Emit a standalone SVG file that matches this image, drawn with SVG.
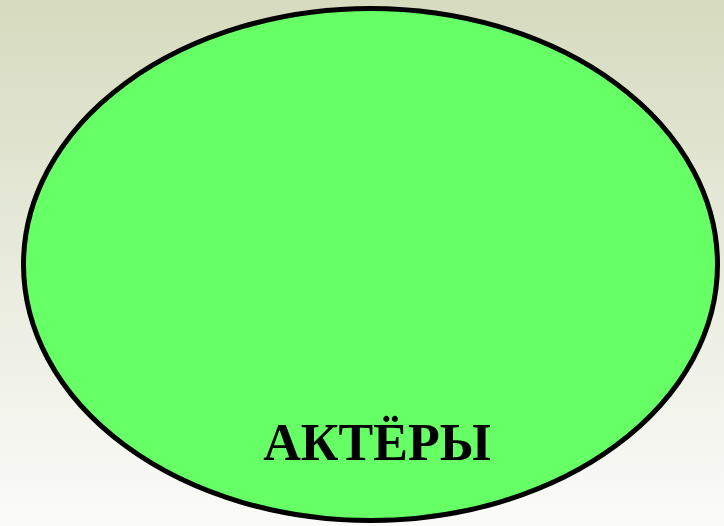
<svg xmlns="http://www.w3.org/2000/svg" width="724" height="526" viewBox="0 0 724 526">
<defs>
<linearGradient id="bg" x1="0" y1="0" x2="0" y2="1">
<stop offset="0" stop-color="#D6DBBF"/>
<stop offset="0.5" stop-color="#E8EBDC"/>
<stop offset="1" stop-color="#FBFBF9"/>
</linearGradient>
<style>
.lbl{font-family:"Liberation Serif","Times New Roman",serif;font-weight:bold;font-size:52px;fill:#000}
</style>
</defs>
<rect x="0" y="0" width="724" height="526" fill="url(#bg)"/>
<g id="actors">
<ellipse cx="370.5" cy="264.5" rx="347" ry="256" fill="#66FF66" stroke="#000" stroke-width="5"/>
<text class="lbl" x="377" y="460" text-anchor="middle">АКТЁРЫ</text>
</g>
</svg>
